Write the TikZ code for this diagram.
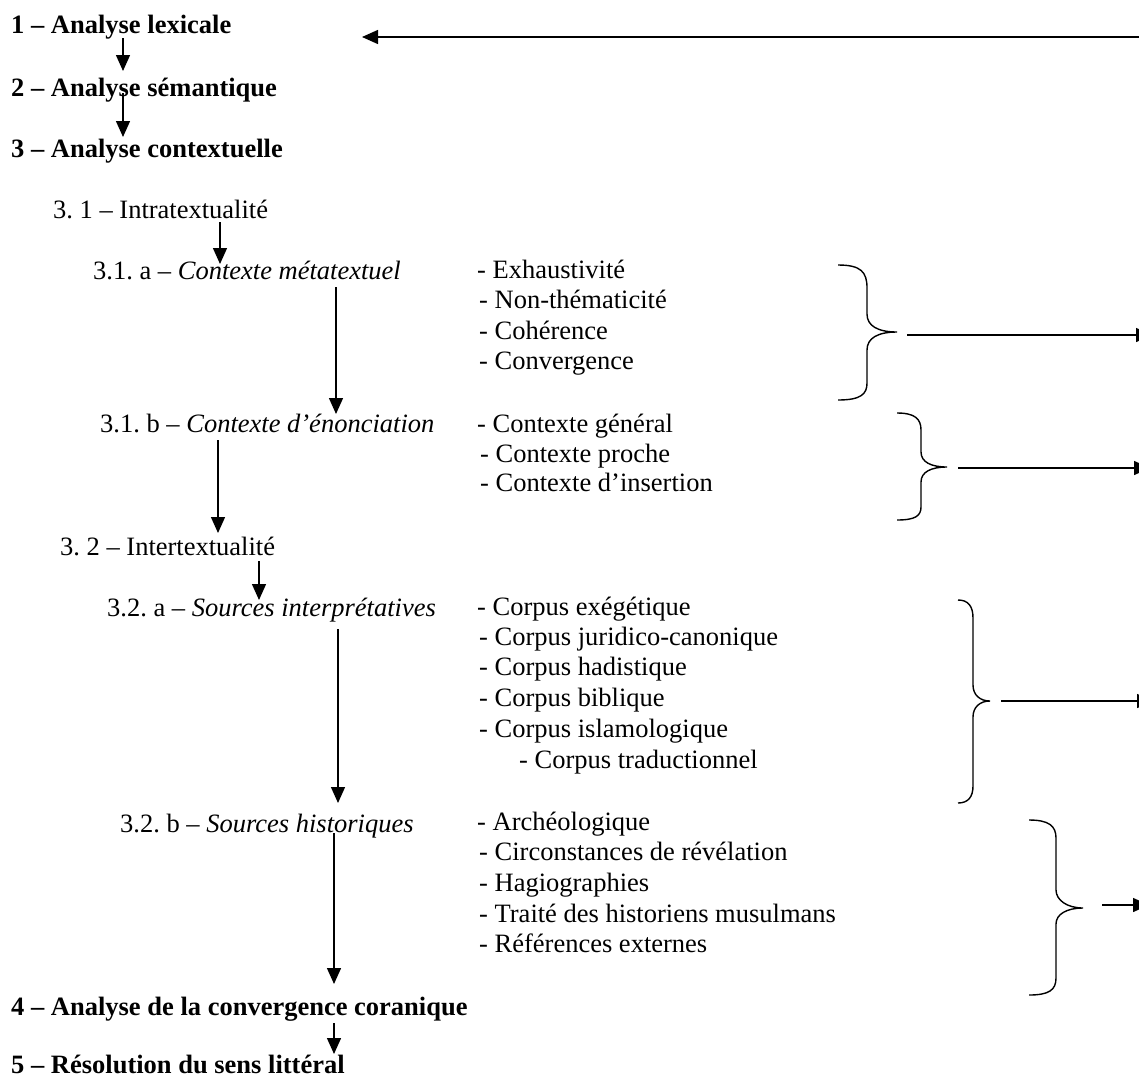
\documentclass[tikz,border=0pt]{standalone}
\usepackage{fontspec}
\setmainfont{Liberation Serif}
\usetikzlibrary{arrows.meta}
\frenchspacing
\tikzset{
  txt/.style={anchor=base west, inner sep=0pt, font=\fontsize{26.5}{30}\selectfont},
  ttl/.style={txt, font=\fontsize{26.5}{30}\selectfont\bfseries},
  arr/.style={line width=1.4pt, -{Triangle[width=14pt,length=16pt]}},
  brc/.style={line width=1.4pt},
}
\begin{document}
\frenchspacing
\begin{tikzpicture}[x=1pt,y=-1pt]
\useasboundingbox (0,0) rectangle (1139,1079);
\clip (0,0) rectangle (1139,1079);
\fill[white] (0,0) rectangle (1139,1079);

% main titles
\node[ttl] (l1) at (11,33) {1 – Analyse lexicale};
\node[ttl] (l2) at (11,96) {2 – Analyse sémantique};
\node[ttl] (l3) at (11,157) {3 – Analyse contextuelle};
\node[ttl] (l4) at (11,1015) {4 – Analyse de la convergence coranique};
\node[ttl] (l5) at (11,1073) {5 – Résolution du sens littéral};

% sub levels
\node[txt] (s31) at (53,218) {3. 1 – Intratextualité};
\node[txt] (s31a) at (93,279) {3.1. a – \textit{Contexte métatextuel}};
\node[txt] (s31b) at (100,432) {3.1. b – \textit{Contexte d’énonciation}};
\node[txt] (s32) at (60,555) {3. 2 – Intertextualité};
\node[txt] (s32a) at (107,616) {3.2. a – \textit{Sources interprétatives}};
\node[txt] (s32b) at (120,832) {3.2. b – \textit{Sources historiques}};

% lists
\node[txt] (e1) at (477,278) {- Exhaustivité};
\node[txt] (e2) at (479,308) {- Non-thématicité};
\node[txt] (e3) at (479,339) {- Cohérence};
\node[txt] (e4) at (479,369) {- Convergence};

\node[txt] (c1) at (477,432) {- Contexte général};
\node[txt] (c2) at (480,462) {- Contexte proche};
\node[txt] (c3) at (480,491) {- Contexte d’insertion};

\node[txt] (p1) at (477,615) {- Corpus exégétique};
\node[txt] (p2) at (479,645) {- Corpus juridico-canonique};
\node[txt] (p3) at (479,675) {- Corpus hadistique};
\node[txt] (p4) at (479,706) {- Corpus biblique};
\node[txt] (p5) at (479,737) {- Corpus islamologique};
\node[txt] (p6) at (519,768) {- Corpus traductionnel};

\node[txt] (h1) at (477,830) {- Archéologique};
\node[txt] (h2) at (479,860) {- Circonstances de révélation};
\node[txt] (h3) at (479,891) {- Hagiographies};
\node[txt] (h4) at (479,922) {- Traité des historiens musulmans};
\node[txt] (h5) at (479,952) {- Références externes};

% vertical arrows
\draw[arr] (l1.base west) ++(112,5) -- ++(0,33);
\draw[arr] (l2.base west) ++(112,-3) -- ++(0,44);
\draw[arr] (s31.base west) ++(167,4) -- ++(0,42);
\draw[arr] (s31a.base west) ++(243,8) -- ++(0,127);
\draw[arr] (s31b.base west) ++(118,8) -- ++(0,93);
\draw[arr] (s32.base west) ++(199,6) -- ++(0,39);
\draw[arr] (s32a.base west) ++(231,13) -- ++(0,174);
\draw[arr] (s32b.base west) ++(214,1) -- ++(0,151);
\draw[arr] (l4.base west) ++(323,8) -- ++(0,31);

% return arrow at top
\coordinate (topR) at (1145,37);
\coordinate (topL) at (362,37);
\draw[arr] (topR) -- (topL);

% braces
\draw[brc] (838,265) .. controls (861,265) and (867,272) .. (867,288) -- (867,314)
  .. controls (867,326) and (878,332) .. (897,332) coordinate (b1)
  .. controls (878,332) and (867,338) .. (867,350) -- (867,383)
  .. controls (867,394) and (861,400) .. (838,400);
\draw[brc] (897,413) .. controls (915,413) and (921,419) .. (921,430) -- (921,452)
  .. controls (921,462) and (931,467) .. (947,467) coordinate (b2)
  .. controls (931,467) and (921,472) .. (921,482) -- (921,507)
  .. controls (921,516) and (915,520) .. (897,520);
\draw[brc] (958,600) .. controls (968,600) and (973,606) .. (973,618) -- (973,685)
  .. controls (973,695) and (980,701) .. (990,701) coordinate (b3)
  .. controls (980,701) and (973,707) .. (973,717) -- (973,786)
  .. controls (973,797) and (968,803) .. (958,803);
\draw[brc] (1029,820) .. controls (1049,820) and (1056,826) .. (1056,838) -- (1056,890)
  .. controls (1056,900) and (1067,908) .. (1083,908) coordinate (b4)
  .. controls (1067,908) and (1056,914) .. (1056,924) -- (1056,978)
  .. controls (1056,990) and (1049,995) .. (1029,995);

% brace arrows
\coordinate (b1s) at (907,335);
\coordinate (b1e) at (1152,335);
\coordinate (b2s) at (958,468);
\coordinate (b2e) at (1150,468);
\coordinate (b3s) at (1001,701);
\coordinate (b3e) at (1153,701);
\coordinate (b4s) at (1102,905);
\coordinate (b4e) at (1149,905);
\draw[arr] (b1s) -- (b1e);
\draw[arr] (b2s) -- (b2e);
\draw[arr] (b3s) -- (b3e);
\draw[arr] (b4s) -- (b4e);
\end{tikzpicture}
\end{document}
